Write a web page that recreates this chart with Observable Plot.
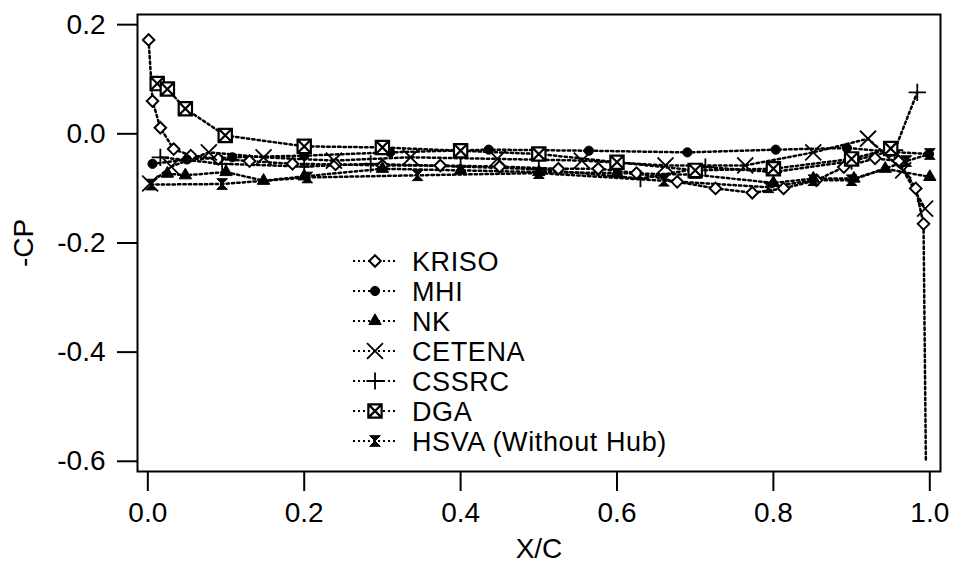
<!DOCTYPE html>
<html><head><meta charset="utf-8">
<script src="https://cdn.jsdelivr.net/npm/d3@7"></script>
<script src="https://cdn.jsdelivr.net/npm/@observablehq/plot@0.6"></script>
<style>
body{margin:0;background:#fff;}
#wrap{position:relative;width:956px;height:565px;font-family:"Liberation Sans",Arial,Helvetica,sans-serif;}
#legend{position:absolute;left:0;top:0;pointer-events:none;}
</style></head><body><div id="wrap"></div>
<script>
// ---------- data ----------
const seriesNames = ["KRISO","MHI","NK","CETENA","CSSRC","DGA","HSVA (Without Hub)"];

const krisoX = [0.001,0.006,0.016,0.033,0.055,0.09,0.13,0.185,0.24,0.30,0.374,0.45,0.525,0.576,0.625,0.677,0.726,0.773,0.813,0.855,0.89,0.93,0.96,0.982,0.992];
const krisoY = [0.172,0.060,0.011,-0.028,-0.040,-0.046,-0.050,-0.055,-0.056,-0.058,-0.058,-0.060,-0.064,-0.064,-0.072,-0.088,-0.100,-0.108,-0.100,-0.085,-0.061,-0.045,-0.050,-0.100,-0.165];
const krisoTail = [0.995,-0.600]; // line continues below, no marker

const mhiX = [0.006,0.05,0.108,0.20,0.31,0.436,0.564,0.69,0.803,0.894,0.95,0.999];
const mhiY = [-0.055,-0.047,-0.043,-0.040,-0.034,-0.029,-0.031,-0.034,-0.029,-0.026,-0.033,-0.037];

const nkX = [0.025,0.048,0.10,0.148,0.20,0.30,0.40,0.50,0.60,0.70,0.80,0.851,0.903,0.943,1.0];
const nkY = [-0.073,-0.076,-0.070,-0.086,-0.078,-0.064,-0.067,-0.070,-0.072,-0.075,-0.090,-0.082,-0.082,-0.064,-0.079];

const cetenaX = [0.003,0.03,0.078,0.148,0.238,0.336,0.447,0.555,0.662,0.764,0.851,0.921,0.966,0.994];
const cetenaY = [-0.091,-0.060,-0.034,-0.043,-0.049,-0.043,-0.046,-0.049,-0.058,-0.058,-0.034,-0.009,-0.067,-0.137];

const cssrcX = [0.016,0.095,0.20,0.285,0.40,0.50,0.63,0.713,0.80,0.90,0.955,0.984];
const cssrcY = [-0.043,-0.055,-0.060,-0.055,-0.060,-0.065,-0.082,-0.061,-0.070,-0.050,-0.030,0.076];

const dgaX = [0.012,0.025,0.048,0.099,0.20,0.30,0.40,0.50,0.60,0.70,0.80,0.90,0.95];
const dgaY = [0.092,0.082,0.046,-0.003,-0.023,-0.025,-0.031,-0.037,-0.052,-0.067,-0.064,-0.046,-0.027];

const hsvaX = [0.004,0.095,0.204,0.345,0.50,0.66,0.794,0.851,0.90,0.97,1.0];
const hsvaY = [-0.093,-0.092,-0.080,-0.076,-0.072,-0.086,-0.098,-0.085,-0.085,-0.050,-0.037];

const xTicks = [0,0.2,0.4,0.6,0.8,1.0];
const yTicks = [-0.6,-0.4,-0.2,0,0.2];
const xLabel = "X/C";
const yLabel = "-CP";

// ---------- symbols ----------
const boxX = {draw(ctx,size){const r=Math.sqrt(size)/2;
  ctx.moveTo(-r,-r);ctx.lineTo(r,-r);ctx.lineTo(r,r);ctx.lineTo(-r,r);ctx.closePath();
  ctx.moveTo(-r,-r);ctx.lineTo(r,r);ctx.moveTo(r,-r);ctx.lineTo(-r,r);}};
const hourglass = {draw(ctx,size){const r=Math.sqrt(size)/2;
  ctx.moveTo(-r,-r);ctx.lineTo(r,-r);ctx.lineTo(0,0);ctx.closePath();
  ctx.moveTo(-r,r);ctx.lineTo(r,r);ctx.lineTo(0,0);ctx.closePath();}};

const styles = [
  {symbol: d3.symbolDiamond2, fill:"white", stroke:"black", r:5.2, sw:2},
  {symbol: d3.symbolCircle, fill:"black", stroke:"black", r:4.6, sw:1},
  {symbol: d3.symbolTriangle, fill:"black", stroke:"black", r:4.6, sw:1},
  {symbol: d3.symbolTimes, fill:"none", stroke:"black", r:7.3, sw:1.8},
  {symbol: d3.symbolPlus, fill:"none", stroke:"black", r:5.6, sw:1.8},
  {symbol: boxX, fill:"white", stroke:"black", r:7.5, sw:2.2},
  {symbol: hourglass, fill:"black", stroke:"black", r:6, sw:1}
];

const xs = [krisoX,mhiX,nkX,cetenaX,cssrcX,dgaX,hsvaX];
const ys = [krisoY,mhiY,nkY,cetenaY,cssrcY,dgaY,hsvaY];
const pts = seriesNames.map((name,k)=>xs[k].map((x,i)=>({name,x,y:ys[k][i]})));
const lineRows = pts.flat().concat([{name:"KRISO",x:krisoTail[0],y:krisoTail[1]}]);
lineRows.sort((a,b)=>seriesNames.indexOf(a.name)-seriesNames.indexOf(b.name) || a.x-b.x);

const FONT = "Liberation Sans, Arial, Helvetica, sans-serif";
const dash = "2.4,3";

const plot = Plot.plot({
  width: 956, height: 565,
  marginLeft: 137, marginRight: 16, marginTop: 14, marginBottom: 94,
  style: {fontFamily: FONT, background: "white", color: "black"},
  x: {domain: [-0.0132, 1.0137]},
  y: {domain: [-0.6187, 0.2186]},
  marks: [
    Plot.line(lineRows, {x:"x", y:"y", z:"name", stroke:"black", strokeWidth:2.5, strokeDasharray:dash, curve:"linear"}),
    ...pts.map((p,k)=>Plot.dot(p, {x:"x", y:"y", symbol: styles[k].symbol, r: styles[k].r,
        fill: styles[k].fill, stroke: styles[k].stroke, strokeWidth: styles[k].sw})),
    Plot.frame({stroke:"black", strokeWidth:2}),
    Plot.axisY({ticks: yTicks, tickSize: 20, tickPadding: 12, strokeWidth: 2,
      tickFormat: d => d.toFixed(1), fontSize: 28,
      label: yLabel, labelAnchor: "center", labelOffset: 124, labelArrow: "none"}),
    Plot.axisX({ticks: xTicks, tickSize: 20, tickPadding: 11, strokeWidth: 2,
      tickFormat: d => d.toFixed(1), fontSize: 28,
      label: xLabel, labelAnchor: "center", labelOffset: 86, labelArrow: "none"})
  ]
});
const wrap = document.getElementById("wrap");
wrap.appendChild(plot);

// ---------- legend (inside plot area) ----------
const lg = d3.select(wrap).append("svg").attr("id","legend")
  .attr("width",956).attr("height",565);
seriesNames.forEach((name,i)=>{
  const cy = 261 + 30*i;
  const g = lg.append("g").attr("transform",`translate(0,${cy})`);
  g.append("line").attr("x1",353).attr("x2",397).attr("y1",0).attr("y2",0)
    .attr("stroke","black").attr("stroke-width",2.2).attr("stroke-dasharray","2,3");
  const st = styles[i];
  g.append("path").attr("transform","translate(375,0)")
    .attr("d", d3.symbol(st.symbol, Math.PI*st.r*st.r)())
    .attr("fill", st.fill).attr("stroke", st.stroke).attr("stroke-width", st.sw);
  g.append("text").attr("x",412).attr("y",0).attr("dy","0.36em")
    .attr("font-family",FONT).attr("font-size",27).attr("letter-spacing","0.6px")
    .text(name);
});
</script></body></html>
